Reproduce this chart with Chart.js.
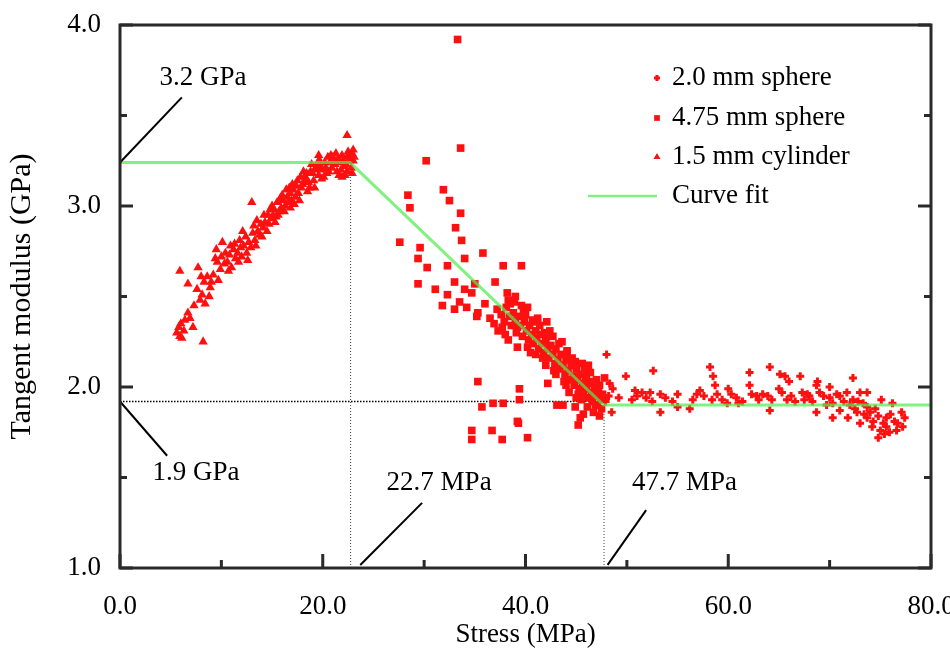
<!DOCTYPE html>
<html><head><meta charset="utf-8">
<script src="https://cdn.jsdelivr.net/npm/chart.js@4.4.0/dist/chart.umd.min.js"></script>
<style>html,body{margin:0;padding:0;background:#fff;}</style>
</head><body>
<canvas id="c" width="950" height="651"></canvas>
<script>
// ---------- DATA ----------
const xTickValues = [0, 20, 40, 60, 80];
const xMinorTicks = [10, 30, 50, 70];
const yTickValues = [1, 2, 3, 4];
const yMinorTicks = [1.5, 2.5, 3.5];

const fitX = [0, 22.7, 47.7, 80];
const fitY = [3.24, 3.24, 1.90, 1.90];

const seriesLabels = ["2.0 mm sphere", "4.75 mm sphere", "1.5 mm cylinder", "Curve fit"];

// 2.0 mm sphere [stress, modulus]
const sphere20 = [
[48.0,2.18],[49.9,2.06],[50.8,1.98],[51.5,1.97],[52.3,1.97],[52.6,2.09],[53.3,1.96],[50.5,1.93],[52.5,1.92],[53.3,1.86],
[48.5,1.86],[55.0,1.96],[55.0,1.89],[56.2,1.88],[56.9,1.96],[57.2,1.98],[58.2,2.11],[58.5,2.06],[58.7,2.01],[58.9,1.96],
[58.4,1.93],[59.4,1.93],[59.9,1.91],[60.8,1.94],[61.4,1.92],[62.1,2.08],[62.1,2.01],[62.3,1.96],[62.8,1.95],[63.4,1.96],
[64.1,2.11],[65.1,2.07],[65.6,2.06],[65.3,1.97],[65.8,1.93],[64.1,1.87],[64.3,1.93],[67.1,2.06],[67.3,1.97],[67.8,1.96],
[68.0,1.95],[68.7,1.86],[68.8,2.03],[69.0,1.97],[70.0,2.00],[70.0,1.94],[70.3,1.91],[71.0,1.95],[71.7,1.97],[72.3,2.05],
[72.3,1.93],[73.0,1.97],[73.7,1.97],[73.3,1.91],[71.0,1.87],[71.8,1.83],[72.7,1.86],[73.0,1.80],[73.7,1.83],[74.3,1.81],
[75.0,1.76],[75.1,1.93],[75.6,1.78],[75.9,1.75],[76.2,1.91],[76.4,1.81],[77.1,1.86],[77.2,1.78],[74.8,1.72],[75.6,1.83],
[73.7,1.89],[70.3,1.83],[68.7,2.01],[48.2,1.95],[48.6,1.99],[49.2,1.94],[51.0,1.95],[51.9,1.94],[53.8,1.94],[54.5,1.92],
[56.5,1.93],[57.6,1.95],[60.3,1.96],[61.0,1.91],[63.0,1.93],[63.9,1.95],[66.2,1.95],[66.6,1.92],[67.5,1.93],[68.3,1.92],
[69.4,1.95],[69.7,1.90],[70.7,1.96],[71.4,1.92],[72.0,1.90],[72.8,1.92],[74.0,1.86],[74.5,1.88],[74.8,1.84],[75.3,1.80],
[76.0,1.85],[76.7,1.80],[77.4,1.83],[76.6,1.76],[75.4,1.74],[74.2,1.78],[73.4,1.85],[72.5,1.88],[65.0,1.99],[66.0,2.03],
[60.0,1.99],[47.9,1.92],[48.3,2.02]
];

// 4.75 mm sphere
const sphere475 = [
[27.6,2.80],[28.4,3.06],[28.6,2.99],[30.2,3.25],[31.9,3.09],[32.5,3.03],[33.3,3.92],[33.6,3.32],[33.6,2.96],[33.1,2.88],
[33.7,2.81],[29.6,2.77],[29.4,2.71],[30.3,2.66],[32.3,2.67],[34.0,2.71],[35.8,2.74],[37.8,2.67],[39.6,2.67],[29.4,2.57],
[31.1,2.54],[32.3,2.51],[33.0,2.58],[34.0,2.54],[34.7,2.52],[35.0,2.57],[37.0,2.58],[38.2,2.52],[31.8,2.45],[33.0,2.43],
[33.5,2.47],[34.2,2.44],[35.3,2.41],[35.2,2.39],[36.5,2.38],[37.2,2.43],[38.5,2.46],[39.6,2.45],[37.3,2.31],[38.0,2.29],
[38.3,2.26],[39.2,2.33],[40.9,2.36],[42.1,2.36],[39.2,2.22],[40.2,2.22],[42.1,2.28],[42.7,2.28],[44.1,2.20],[35.3,2.03],
[39.4,1.99],[42.2,2.02],[35.7,1.89],[36.8,1.91],[37.8,1.91],[39.4,1.93],[39.2,1.81],[39.3,1.80],[34.7,1.76],[34.7,1.71],
[36.7,1.76],[37.7,1.71],[40.2,1.72],[43.1,1.90],[43.7,1.90],[44.9,1.89],[45.4,1.83],[45.2,1.79],[45.7,1.85],
[37.6,2.40],[37.9,2.36],[38.1,2.44],[38.4,2.39],[38.6,2.34],[38.8,2.41],[39.0,2.37],[39.1,2.30],[39.3,2.39],[39.5,2.34],
[39.7,2.28],[39.9,2.36],[40.1,2.31],[40.3,2.26],[40.4,2.34],[40.6,2.29],[40.8,2.24],[41.0,2.31],[41.1,2.27],[41.3,2.21],
[41.5,2.29],[41.6,2.24],[41.8,2.19],[42.0,2.25],[42.2,2.21],[42.3,2.16],[42.5,2.23],[42.7,2.18],[42.9,2.13],[43.0,2.21],
[43.2,2.15],[43.4,2.10],[43.5,2.18],[43.7,2.12],[43.9,2.07],[44.0,2.15],[44.2,2.09],[44.4,2.04],[44.5,2.12],[44.7,2.06],
[44.8,2.01],[45.0,2.10],[45.1,2.04],[45.3,1.99],[45.4,2.07],[45.6,2.02],[45.7,1.96],[45.9,2.05],[46.0,1.99],[46.2,1.94],
[46.3,2.03],[46.5,1.97],[46.6,1.92],[46.8,2.00],[46.9,1.95],[47.1,1.90],[47.2,1.98],[47.4,1.93],[47.5,1.88],[47.6,1.96],
[45.8,2.10],[46.4,2.08],[44.6,2.16],[43.3,2.24],[41.9,2.30],[40.7,2.37],[38.9,2.47],[40.0,2.40],[41.4,2.34],[46.1,1.89],
[46.7,1.86],[47.0,2.04],[45.5,1.93],[44.3,1.97],[47.3,1.84],
[38.3,2.48],[39.8,2.41],[40.5,2.19],[41.2,2.38],[41.7,2.16],[42.4,2.31],[42.8,2.09],[43.6,2.25],[43.8,2.03],[44.1,2.19],
[44.9,2.14],[45.2,1.96],[45.6,2.13],[46.0,2.07],[46.5,2.02],[46.9,1.90],[47.3,2.01],[47.7,1.94],[47.8,2.05],[46.2,2.12],
[45.0,1.94],[44.0,2.01],[43.0,2.07],[42.0,2.12],[41.0,2.18],[40.2,2.44],[39.0,2.50],[37.7,2.33],[36.9,2.35],[36.0,2.46]
];

// 1.5 mm cylinder
const cylinder15 = [
[5.6,2.30],[5.9,2.28],[6.1,2.27],[6.3,2.31],[5.8,2.33],[6.4,2.37],[6.7,2.41],[7.2,2.33],[8.2,2.25],
[5.9,2.64],[6.7,2.57],[7.7,2.66],[7.6,2.54],[7.9,2.48],[8.1,2.51],[8.4,2.46],[8.6,2.61],[8.9,2.55],[8.3,2.58],
[9.4,2.71],[9.7,2.59],[9.2,2.62],[9.9,2.65],[10.1,2.80],[10.3,2.68],[10.6,2.69],[10.8,2.73],[11.0,2.66],[11.2,2.76],
[11.4,2.71],[11.6,2.74],[11.8,2.81],[12.0,2.72],[12.2,2.78],[12.5,2.74],[12.7,2.80],[12.9,2.77],[13.0,3.02],[13.1,2.85],
[13.3,2.81],[13.5,2.92],[13.6,2.86],[13.8,2.84],[14.1,2.88],[14.3,2.91],[14.5,2.86],[14.8,2.98],[14.9,2.93],[15.1,2.95],
[15.3,2.91],[15.5,3.02],[15.7,2.97],[15.9,2.99],[16.1,3.03],[16.3,3.00],[16.5,3.05],[16.8,3.07],[16.9,3.03],[17.1,3.09],
[17.4,3.11],[17.6,3.07],[17.8,3.16],[18.0,3.12],[18.2,3.14],[18.4,3.18],[18.6,3.13],[18.8,3.19],[19.1,3.14],[19.3,3.20],
[19.4,3.22],[19.6,3.17],[19.8,3.21],[20.0,3.20],[20.2,3.24],[20.4,3.18],[20.7,3.24],[20.9,3.21],[21.0,3.27],[21.2,3.23],
[21.4,3.19],[21.7,3.24],[21.9,3.28],[22.1,3.22],[22.4,3.27],[22.4,3.19],[22.6,3.25],[22.9,3.29],[23.0,3.25],[22.8,3.21],
[22.4,3.39],[23.1,3.27],[22.2,3.17],
[15.0,3.00],[15.6,2.95],[16.0,3.06],[16.6,3.02],[17.0,3.12],[17.3,3.05],[17.9,3.10],[18.3,3.16],[18.7,3.10],[19.0,3.18],
[19.5,3.24],[19.9,3.15],[20.3,3.21],[20.6,3.19],[21.1,3.25],[21.5,3.26],[21.8,3.20],[22.0,3.25],[22.3,3.23],[22.7,3.27],
[12.4,2.83],[13.9,2.90],[11.9,2.77],[10.9,2.78],[10.4,2.74],[9.6,2.69],[14.6,2.95],[16.4,3.09],[18.9,3.23],[20.5,3.27],
[13.2,2.89],[13.4,2.78],[14.0,2.83],[14.2,2.95],[14.7,2.90],[15.2,2.98],[15.4,2.94],[15.8,3.04],[16.2,2.97],[16.7,3.10],
[17.2,3.01],[17.5,3.14],[17.7,3.03],[18.1,3.19],[18.5,3.08],[19.2,3.10],[19.7,3.25],[20.1,3.16],[20.8,3.28],[21.3,3.29],
[21.6,3.17],[22.5,3.30],[23.0,3.31],[22.9,3.18],[21.9,3.16],[12.6,2.70],[11.7,2.69],[11.3,2.79],[10.7,2.64],[10.0,2.72],
[9.0,2.58],[8.8,2.50],[7.3,2.45],[6.9,2.38],[6.0,2.35],[8.0,2.61],[9.5,2.76],[12.1,2.86],[16.8,2.99],[19.6,3.28]
];

// annotation callouts: text, text anchor (data), leader line start/end (data)
const calloutText = ["3.2 GPa", "1.9 GPa", "22.7 MPa", "47.7 MPa"];
const calloutTextPos = [[3.9, 3.71], [3.2, 1.525], [26.3, 1.47], [50.5, 1.47]];
const calloutLine = [[[0, 3.24], [6.1, 3.60]], [[0, 1.92], [4.65, 1.62]], [[23.7, 1.017], [29.8, 1.36]], [[48.1, 1.017], [51.9, 1.32]]];
const dropLinesX = [22.7, 47.7];
const dropLinesTop = [3.24, 1.92];
const hLineY = 1.92;

// ---------- CHART ----------
const toXY = a => a.map(p => ({x: p[0], y: p[1]}));
const FONT = "'Liberation Serif', 'Times New Roman', serif";
const FS = 27;
Chart.defaults.font.family = FONT;
Chart.defaults.font.size = FS;
Chart.defaults.color = '#000';

const RED = '#ff1010';
const GREEN = 'rgba(80,236,80,0.72)';

const datasets = [
  {label: seriesLabels[3], type: 'line', data: fitX.map((x, i) => ({x, y: fitY[i]})), borderColor: GREEN, borderWidth: 3,
   pointRadius: 0, fill: false, tension: 0, order: 0},
  {label: seriesLabels[0], data: toXY(sphere20), pointStyle: 'cross', pointRadius: 4, borderWidth: 3,
   borderColor: RED, backgroundColor: RED, order: 1},
  {label: seriesLabels[1], data: toXY(sphere475), pointStyle: 'rect', pointRadius: 5.4, borderWidth: 0,
   borderColor: RED, backgroundColor: RED, order: 1},
  {label: seriesLabels[2], data: toXY(cylinder15), pointStyle: 'triangle', pointRadius: 5.4, borderWidth: 0,
   borderColor: RED, backgroundColor: RED, order: 1}
];

function seg(ctx, x1, y1, x2, y2) { ctx.beginPath(); ctx.moveTo(x1, y1); ctx.lineTo(x2, y2); ctx.stroke(); }

const annotPlugin = {
  id: 'annot',
  beforeDatasetsDraw(chart) {
    const {ctx, scales: {x, y}} = chart;
    ctx.save();
    ctx.strokeStyle = '#444'; ctx.lineWidth = 1; ctx.setLineDash([1, 2]);
    dropLinesX.forEach((v, i) => seg(ctx, x.getPixelForValue(v) + 0.5, y.getPixelForValue(1), x.getPixelForValue(v) + 0.5, y.getPixelForValue(dropLinesTop[i])));
    ctx.strokeStyle = '#000'; ctx.lineWidth = 1.5; ctx.setLineDash([1.5, 1.5]);
    seg(ctx, x.getPixelForValue(0), y.getPixelForValue(hLineY), x.getPixelForValue(dropLinesX[1]), y.getPixelForValue(hLineY));
    ctx.restore();
  },
  afterDraw(chart) {
    const {ctx, chartArea: a, scales: {x, y}} = chart;
    ctx.save();
    ctx.setLineDash([]); ctx.strokeStyle = '#000'; ctx.lineWidth = 2;
    calloutLine.forEach(l => seg(ctx, x.getPixelForValue(l[0][0]), y.getPixelForValue(l[0][1]), x.getPixelForValue(l[1][0]), y.getPixelForValue(l[1][1])));
    ctx.fillStyle = '#000'; ctx.font = FS + 'px ' + FONT; ctx.textAlign = 'left'; ctx.textBaseline = 'middle';
    calloutText.forEach((t, i) => ctx.fillText(t, x.getPixelForValue(calloutTextPos[i][0]), y.getPixelForValue(calloutTextPos[i][1])));
    // frame
    ctx.strokeStyle = '#2a2a2a'; ctx.lineWidth = 3;
    ctx.strokeRect(a.left, a.top, a.right - a.left, a.bottom - a.top);
    // inward ticks
    const tk = (vals, len) => vals.forEach(v => {
      const py = y.getPixelForValue(v);
      seg(ctx, a.left, py, a.left + len, py); seg(ctx, a.right, py, a.right - len, py);
    });
    tk(yTickValues, 13); tk(yMinorTicks, 7);
    const tkx = (vals, len) => vals.forEach(v => {
      const px = x.getPixelForValue(v);
      seg(ctx, px, a.bottom, px, a.bottom - len);
    });
    tkx(xTickValues, 14); tkx(xMinorTicks, 8);
    // legend
    const lx = 657, tx = 672, ly = [78, 118, 157, 196];
    [1, 2, 3].forEach((di, i) => {
      const ds = chart.data.datasets[di];
      ctx.fillStyle = ds.backgroundColor; ctx.strokeStyle = ds.borderColor;
      ctx.lineWidth = ds.borderWidth || 0;
      Chart.helpers.drawPoint(ctx, {pointStyle: ds.pointStyle, radius: ds.pointRadius * 0.75, rotation: 0, borderWidth: ds.borderWidth}, lx, ly[i]);
      ctx.fillStyle = '#000';
      ctx.fillText(ds.label, tx, ly[i]);
    });
    const fd = chart.data.datasets[0];
    ctx.strokeStyle = fd.borderColor; ctx.lineWidth = 2.5;
    seg(ctx, 588, ly[3], 657, ly[3]);
    ctx.fillStyle = '#000';
    ctx.fillText(fd.label, tx, ly[3]);
    ctx.restore();
  }
};

new Chart(document.getElementById('c'), {
  type: 'scatter',
  data: {datasets},
  options: {
    responsive: false,
    animation: false,
    events: [],
    layout: {padding: {top: 25, right: 19, left: 0, bottom: 0}},
    plugins: {legend: {display: false}, tooltip: {enabled: false}},
    scales: {
      x: {
        type: 'linear', min: 0, max: 80,
        grid: {display: false, drawTicks: false}, border: {display: false},
        ticks: {stepSize: 20, padding: 23, maxRotation: 0, autoSkip: false, callback: v => Number(v).toFixed(1), font: {size: FS}},
        title: {display: true, text: 'Stress (MPa)', font: {size: FS}, padding: {top: 0, bottom: 0}},
        afterFit: s => { s.height = 83; s.paddingLeft = 0; s.paddingRight = 0; }
      },
      y: {
        type: 'linear', min: 1, max: 4,
        grid: {display: false, drawTicks: false}, border: {display: false},
        ticks: {stepSize: 1, padding: 19, autoSkip: false, callback: v => Number(v).toFixed(1), font: {size: FS}},
        title: {display: true, text: 'Tangent modulus (GPa)', font: {size: 30}, padding: {top: 4, bottom: 0}},
        afterFit: s => { s.width = 120; s.paddingTop = 0; s.paddingBottom = 0; }
      }
    }
  },
  plugins: [annotPlugin]
});
</script>
</body></html>
